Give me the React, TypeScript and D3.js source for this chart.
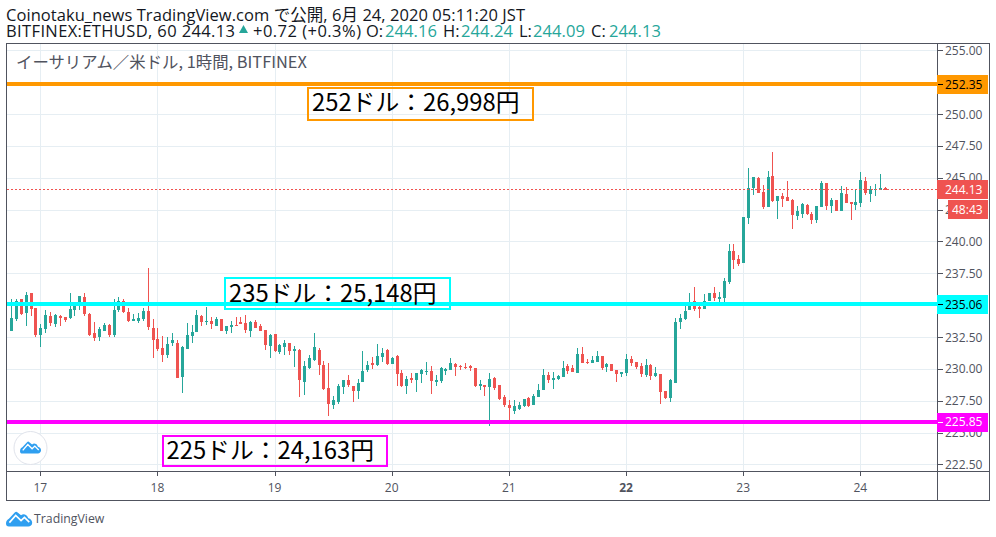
import React from "react";
import * as d3 from "d3";

// [open, high, low, close] hourly
const candlesDay16: number[][] = [
  [232.94,235.45,232.94,233.96],[233.88,235.45,233.75,235.30],[235.45,235.45,234.20,234.33],[234.36,236.00,233.34,235.77],[235.93,235.93,234.12,234.67],[234.80,234.80,232.47,232.63],
];
const candlesDay17: number[][] = [
  [232.63,233.49,231.69,233.18],[233.10,234.59,232.79,234.20],[234.12,234.43,233.34,233.57],[233.49,234.28,233.26,234.20],[234.12,234.20,233.34,233.96],[234.04,234.04,233.65,233.81],
  [233.96,235.93,233.88,234.67],[234.59,235.22,234.12,235.22],[235.14,235.69,234.59,235.69],[235.61,235.93,234.12,234.28],[234.28,234.36,232.55,232.63],[232.79,233.65,232.16,232.39],
  [232.47,233.26,232.16,233.10],[232.94,233.57,232.94,233.41],[233.41,233.49,232.47,232.63],[232.63,235.45,232.47,234.59],[234.59,235.61,234.43,235.30],[235.30,235.45,234.36,234.43],
  [234.43,234.75,233.65,233.73],[233.73,234.28,233.73,233.88],[233.73,234.36,233.57,233.96],[233.88,234.75,233.73,234.51],[234.51,237.89,233.02,233.26],[233.18,233.88,230.82,232.24],
];
const candlesDay18: number[][] = [
  [232.31,233.18,231.37,231.53],[231.61,232.55,230.51,231.06],[231.06,232.47,230.82,231.92],[232.00,232.79,231.77,232.24],[232.00,232.24,229.25,229.25],[229.33,231.77,228.08,231.69],
  [231.53,233.57,231.53,232.63],[232.55,233.41,232.00,232.86],[232.86,234.59,232.86,234.20],[234.12,234.20,233.34,233.65],[233.65,234.83,233.41,233.73],[233.73,234.04,233.10,233.49],
  [233.34,234.04,233.34,233.88],[233.88,233.88,232.94,232.94],[232.94,233.34,232.71,233.34],[233.26,233.73,232.79,233.41],[233.41,234.04,233.34,233.34],[233.65,234.04,233.49,233.49],
  [233.57,234.20,232.79,233.02],[232.95,233.73,232.48,233.65],[233.65,233.81,233.18,233.18],[233.34,233.50,232.95,232.95],[233.03,233.03,231.46,231.85],[231.77,232.71,230.83,232.63],
];
const candlesDay19: number[][] = [
  [232.71,232.71,231.30,231.38],[231.30,231.93,231.14,231.85],[231.69,232.24,231.06,232.00],[232.00,232.00,231.06,231.38],[231.38,231.77,230.12,231.53],[231.46,231.53,227.77,229.10],
  [228.94,230.59,227.92,230.20],[230.04,231.06,229.96,230.83],[230.67,232.79,230.59,231.69],[231.46,231.61,229.49,230.28],[230.28,230.59,228.32,228.39],[228.47,230.44,226.28,227.22],
  [227.14,227.85,226.83,227.53],[227.37,228.79,227.22,228.63],[228.55,229.10,228.00,229.10],[229.10,229.49,228.55,228.71],[228.63,228.63,227.37,228.24],[228.24,229.18,227.61,228.87],
  [228.94,231.38,228.94,229.81],[229.89,230.59,229.73,230.28],[230.44,230.91,229.96,230.28],[230.28,231.93,230.20,230.98],[230.91,231.61,230.51,231.22],[231.46,231.53,230.28,230.36],
];
const candlesDay20: number[][] = [
  [230.36,230.91,230.36,230.83],[230.98,231.06,228.63,229.57],[229.65,229.89,228.55,228.63],[228.63,229.42,228.00,229.18],[229.26,229.65,228.87,229.10],[229.10,229.65,228.16,229.65],
  [229.57,229.96,228.87,229.89],[229.73,230.51,229.49,229.81],[229.81,230.20,228.00,229.02],[228.94,229.49,228.63,229.10],[229.02,230.12,228.87,230.04],[229.81,230.04,229.49,229.96],
  [229.89,230.83,229.89,230.44],[230.36,230.44,229.42,230.12],[230.20,230.28,229.89,230.12],[230.12,230.44,229.96,230.04],[230.20,230.28,229.81,230.04],[230.04,230.04,228.55,228.63],
  [228.63,229.10,228.32,228.79],[228.71,228.71,227.85,228.55],[228.55,229.65,225.49,229.18],[229.26,229.34,228.32,228.47],[228.71,228.71,227.53,227.61],[227.77,227.92,226.98,227.14],
];
const candlesDay21: number[][] = [
  [227.14,227.53,225.88,226.90],[226.67,227.53,226.43,227.06],[226.83,227.37,226.75,227.14],[227.06,227.61,226.98,227.61],[227.69,227.77,226.98,227.06],[227.14,228.00,227.14,227.85],
  [227.77,228.79,227.77,228.32],[228.32,229.96,228.32,229.49],[229.49,229.73,228.87,229.10],[229.10,229.73,228.39,229.26],[229.18,229.49,229.10,229.42],[229.34,230.59,229.34,230.04],
  [230.20,230.36,229.57,229.81],[230.04,230.28,229.73,229.73],[229.65,231.61,229.65,231.14],[231.14,231.69,230.44,230.44],[230.51,230.75,230.36,230.44],[230.44,230.98,230.44,230.67],
  [230.51,231.38,230.51,230.98],[230.98,230.98,229.89,230.04],[230.12,230.44,229.73,230.36],[230.36,230.36,229.81,229.81],[229.89,229.89,228.94,229.57],[229.57,229.73,229.34,229.73],
];
const candlesDay22: number[][] = [
  [229.65,231.14,229.42,230.75],[230.75,230.98,230.20,230.44],[230.51,230.51,229.96,230.12],[230.20,230.44,229.34,229.57],[229.49,230.75,229.34,230.28],[230.28,230.36,229.10,229.42],
  [229.42,230.12,229.34,229.65],[229.57,229.57,227.22,228.16],[228.24,228.24,227.61,227.69],[227.69,229.18,227.37,229.10],[228.86,233.97,228.86,233.65],[233.65,234.28,233.10,233.97],
  [233.89,235.22,233.81,234.52],[234.59,235.93,234.59,235.22],[235.30,236.40,234.52,234.67],[234.83,234.99,233.97,234.67],[234.67,235.85,234.67,235.30],[235.30,235.93,235.30,235.93],
  [235.93,236.40,235.30,235.54],[235.46,236.01,235.22,235.62],[235.54,237.11,235.22,236.87],[236.80,239.78,236.64,239.23],[239.23,239.78,237.81,238.52],[238.60,238.91,238.05,238.21],
];
const candlesDay23: number[][] = [
  [238.29,241.90,238.29,241.90],[241.82,245.74,241.34,244.17],[244.17,245.03,243.62,245.03],[244.95,245.03,243.78,243.78],[243.86,244.41,242.52,242.68],[242.68,245.50,242.68,245.03],
  [245.11,246.99,243.07,243.15],[243.15,243.54,241.74,243.54],[243.54,243.78,242.68,243.31],[243.46,244.72,243.15,243.15],[243.23,243.31,240.95,242.05],[241.97,242.76,241.66,242.37],
  [242.13,243.00,241.82,242.92],[242.84,242.92,242.05,242.13],[242.13,242.29,241.34,241.66],[241.66,242.76,241.42,242.76],[242.68,244.72,242.68,244.56],[244.56,244.56,242.44,242.76],
  [242.76,243.38,242.21,243.23],[243.23,243.23,242.37,242.37],[242.37,244.33,242.37,243.78],[243.70,244.25,243.00,243.00],[243.07,243.07,241.66,242.92],[242.84,244.01,242.44,243.07],
];
const candlesDay24: number[][] = [
  [243.00,245.43,242.68,244.80],[244.72,245.03,243.62,243.78],[243.70,244.33,243.07,244.09],[244.01,244.48,243.54,244.09],[244.01,245.27,244.01,244.17],[244.17,244.25,244.01,244.01],
];

const dayLabels = ["17", "18", "19", "20", "21", "22", "23", "24"];
const dayHours = [0, 24, 48, 72, 96, 120, 144, 168];
const priceTicks = [255, 252.5, 250, 247.5, 245, 242.5, 240, 237.5, 235, 232.5, 230, 227.5, 225, 222.5];
const hiddenPriceLabels = [252.5, 235];
const firstHour = -6;

const levelValues = [252.35, 235.06, 225.85];
const levelColors = ["#ff9800", "#00ffff", "#ff00ff"];
const levelTextColors = ["#000000", "#000000", "#ffffff"];
const noteLabels = ["252ドル：26,998円", "235ドル：25,148円", "225ドル：24,163円"];
const lastPrice = 244.13;
const countdown = "48:43";

const ohlcLetters = ["O:", "H:", "L:", "C:"];
const ohlcValues = ["244.16", "244.24", "244.09", "244.13"];
const ohlcLetterX = [366, 443, 519, 591];
const ohlcValueX = [385, 461, 533, 609];

const GREEN = "#26a69a";
const RED = "#ef5350";
const GRID = "#e6eef3";
const FRAME = "#50535e";
const LATIN = "'Open Sans','Noto Sans CJK JP',sans-serif";
const CJK = "'Noto Sans CJK JP','Open Sans',sans-serif";

const plot = { left: 6.5, right: 937.5, top: 43.5, bottom: 471.5, outerRight: 989.5, outerBottom: 500.5 };

const x = d3.scaleLinear().domain([0, 168]).range([40.3, 860.3]);
const y = d3.scaleLinear().domain([255, 222.5]).range([50.4, 464.4]);

const all = [...candlesDay16, ...candlesDay17, ...candlesDay18, ...candlesDay19, ...candlesDay20, ...candlesDay21, ...candlesDay22, ...candlesDay23, ...candlesDay24];

const noteBoxes = [
  { x: 308, y: 88, width: 225, height: 32, base: 23 },
  { x: 225, y: 278, width: 225, height: 31, base: 24 },
  { x: 162.5, y: 436, width: 224, height: 30, base: 23 },
];

function Cloud({ tx, ty, s, fill }: { tx: number; ty: number; s: number; fill: string }) {
  return (
    <g transform={`translate(${tx},${ty}) scale(${s})`}>
      <path d="M0 13 C0 10 1.5 9 3 8 L9 1.5 C10 .5 11 .5 12 1.5 L15.5 4.5 C17 3 19 3 20.5 4 C22 5 22.5 6 23 7.5 C25.5 8 27 10 27 12 C27 14.5 25 16 23 16 L3 16 C1 16 0 15 0 13 Z" fill={fill} />
      <path d="M3.5 12 L10 4.5 L15.5 10 L19 6.5 L24 11.5" fill="none" stroke="#ffffff" strokeWidth={1.7} />
    </g>
  );
}

export default function App() {
  return (
    <svg width={996} height={537} style={{ position: "absolute", left: 0, top: 0, background: "#fff" }}>
      <rect width={996} height={537} fill="#fff" />
      <text x={6} y={21} fontFamily={LATIN} fontSize={16.5} fill="#131722" textLength={519} lengthAdjust="spacing">Coinotaku_news TradingView.com で公開, 6月 24, 2020 05:11:20 JST</text>
      <text x={6} y={37} fontFamily={LATIN} fontSize={16.5} fill="#131722" textLength={229} lengthAdjust="spacing">BITFINEX:ETHUSD, 60 244.13</text>
      <path d={d3.line()([[239, 33], [248, 33], [243.5, 25]]) + "Z"} fill={GREEN} />
      <text x={253} y={37} fontFamily={LATIN} fontSize={16.5} fill="#131722" textLength={108} lengthAdjust="spacing">+0.72 (+0.3%)</text>
      {ohlcLetters.map((t, i) => (
        <g key={t}>
          <text x={ohlcLetterX[i]} y={37} fontFamily={LATIN} fontSize={16.5} fill="#131722">{t}</text>
          <text x={ohlcValueX[i]} y={37} fontFamily={LATIN} fontSize={16.5} fill={GREEN} textLength={52} lengthAdjust="spacing">{ohlcValues[i]}</text>
        </g>
      ))}

      <g shapeRendering="crispEdges">
        {priceTicks.map((t) => (
          <line key={t} x1={plot.left} x2={plot.right} y1={Math.round(y(t)) + 0.5} y2={Math.round(y(t)) + 0.5} stroke={GRID} />
        ))}
        {dayHours.map((h) => (
          <line key={h} x1={Math.round(x(h)) + 0.5} x2={Math.round(x(h)) + 0.5} y1={plot.top} y2={plot.bottom} stroke={GRID} />
        ))}
      </g>

      <text x={16} y={68} fontFamily={CJK} fontSize={16.4} fill={FRAME}>イーサリアム／米ドル, 1時間, BITFINEX</text>

      <g shapeRendering="crispEdges">
        {all.map(([o, h, l, c], i) => {
          const cx = Math.round(x(i + firstHour));
          const color = c >= o ? GREEN : RED;
          const top = Math.round(y(Math.max(o, c)));
          const bot = Math.round(y(Math.min(o, c)));
          const hi = Math.round(y(h));
          const lo = Math.round(y(l));
          return (
            <g key={i}>
              <rect x={cx} y={hi} width={1} height={lo - hi} fill={color} />
              <rect x={cx - 1} y={top} width={3} height={Math.max(1, bot - top)} fill={color} />
            </g>
          );
        })}
        <line x1={plot.left} x2={plot.right} y1={Math.round(y(lastPrice)) + 0.5} y2={Math.round(y(lastPrice)) + 0.5} stroke={RED} strokeDasharray="2 2" />
        {levelValues.map((v, i) => (
          <rect key={v} x={plot.left} width={plot.right - plot.left} y={Math.round(y(v)) - 2} height={4} fill={levelColors[i]} />
        ))}
      </g>

      {noteLabels.map((t, i) => {
        const { base, ...box } = noteBoxes[i];
        return (
          <g key={t}>
            <rect {...box} fill="none" stroke={levelColors[i]} strokeWidth={2} shapeRendering="crispEdges" />
            <text x={box.x + 4} y={box.y + base} fontFamily={CJK} fontSize={23.8} fill="#000">{t}</text>
          </g>
        );
      })}

      <circle cx={30.5} cy={448} r={16.5} fill="#fff" stroke="#e0e3eb" />
      <Cloud tx={20} ty={441} s={0.78} fill="#2f9ff0" />

      <g fill="none" stroke={FRAME} shapeRendering="crispEdges">
        <rect x={plot.left} y={plot.top} width={plot.outerRight - plot.left} height={plot.outerBottom - plot.top} />
        <line x1={plot.right} x2={plot.right} y1={plot.top} y2={plot.outerBottom} />
        <line x1={plot.left} x2={plot.outerRight} y1={plot.bottom} y2={plot.bottom} />
      </g>

      {dayHours.map((h, i) => (
        <g key={h}>
          <line x1={Math.round(x(h)) + 0.5} x2={Math.round(x(h)) + 0.5} y1={plot.bottom} y2={plot.bottom + 4} stroke={FRAME} shapeRendering="crispEdges" />
          <text x={x(h)} y={491.5} textAnchor="middle" fontFamily={LATIN} fontSize={12} fontWeight={dayLabels[i] === "22" ? 700 : 400} fill={FRAME}>{dayLabels[i]}</text>
        </g>
      ))}

      {priceTicks.map((t) => (
        <g key={t}>
          <line x1={plot.right} x2={plot.right + 5} y1={Math.round(y(t)) + 0.5} y2={Math.round(y(t)) + 0.5} stroke={FRAME} shapeRendering="crispEdges" />
          {hiddenPriceLabels.includes(t) ? null : (
            <text x={945} y={y(t) + 4.5} fontFamily={LATIN} fontSize={12} fill={FRAME}>{t.toFixed(2)}</text>
          )}
        </g>
      ))}

      {levelValues.map((v, i) => (
        <g key={v}>
          <rect x={937} y={Math.round(y(v)) - 9} width={51} height={19} fill={levelColors[i]} />
          <line x1={plot.right} x2={plot.right + 5} y1={Math.round(y(v)) + 0.5} y2={Math.round(y(v)) + 0.5} stroke={levelTextColors[i]} shapeRendering="crispEdges" />
          <text x={945} y={y(v) + 4.5} fontFamily={LATIN} fontSize={12} fill={levelTextColors[i]}>{v.toFixed(2)}</text>
        </g>
      ))}
      <rect x={937} y={180} width={51} height={19} fill={RED} />
      <text x={945} y={194} fontFamily={LATIN} fontSize={12} fill="#fff">{lastPrice.toFixed(2)}</text>
      <rect x={948} y={200} width={40} height={19} fill={RED} />
      <text x={952} y={214} fontFamily={LATIN} fontSize={12} fill="#fff">{countdown}</text>

      <Cloud tx={6} ty={511} s={0.97} fill="#2f9ff0" />
      <text x={34} y={523} fontFamily={LATIN} fontSize={12.3} fill="#50535e">TradingView</text>
    </svg>
  );
}
